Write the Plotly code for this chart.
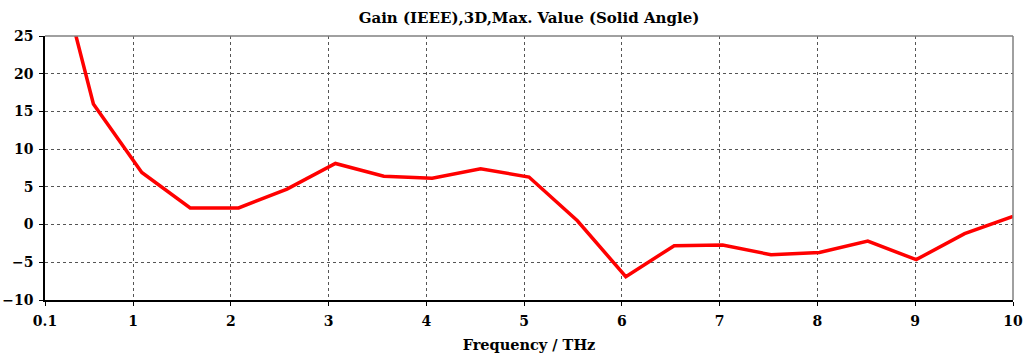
import numpy as np
import plotly.graph_objects as go

freq = [0.1, 0.595, 1.09, 1.585, 2.08, 2.575, 3.07, 3.565, 4.06, 4.555, 5.05,
        5.545, 6.04, 6.535, 7.03, 7.525, 8.02, 8.515, 9.01, 9.505, 10.0]
gain = [41.0, 16.0, 6.9, 2.2, 2.2, 4.7, 8.1, 6.4, 6.15, 7.4, 6.3,
        0.5, -6.9, -2.8, -2.7, -4.0, -3.7, -2.2, -4.65, -1.2, 1.07]
x_ticks = [0.1, 1, 2, 3, 4, 5, 6, 7, 8, 9, 10]
x_tick_text = ["0.1", "1", "2", "3", "4", "5", "6", "7", "8", "9", "10"]
y_ticks = [-10, -5, 0, 5, 10, 15, 20, 25]

font_family = "DejaVu Serif"

fig = go.Figure()
fig.add_trace(go.Scatter(x=freq, y=gain, mode="lines",
                         line=dict(color="#ff0000", width=3.5),
                         cliponaxis=True, hoverinfo="x+y"))

axis_common = dict(
    showgrid=True, gridcolor="#555555", gridwidth=1, griddash="3px,3px",
    zeroline=False, showline=True, linecolor="black", linewidth=1.5,
    ticks="outside", ticklen=4, tickcolor="black", automargin=False,
    tickfont=dict(family=font_family, size=14, color="black", weight="bold"),
)

fig.update_xaxes(range=[0.1, 10], tickvals=x_ticks, ticktext=x_tick_text,
                 ticklabelstandoff=3,
                 title=dict(text="<b>Frequency / THz</b>",
                            font=dict(family=font_family, size=14.5, color="black"),
                            standoff=12),
                 **axis_common)
fig.update_yaxes(range=[-10, 25], tickvals=y_ticks, ticklabelstandoff=3,
                 **axis_common)

# top/right grey frame
fig.add_shape(type="line", xref="paper", yref="paper", x0=0, x1=1, y0=1, y1=1,
              line=dict(color="#808080", width=1.5))
fig.add_shape(type="line", xref="paper", yref="paper", x0=1, x1=1, y0=0, y1=1,
              line=dict(color="#808080", width=1.5))

fig.update_layout(
    width=1024, height=356,
    margin=dict(l=44.5, r=10.5, t=35.5, b=55.6, autoexpand=False),
    plot_bgcolor="white", paper_bgcolor="white",
    showlegend=False,
    font=dict(family=font_family),
    title=dict(text="<b>Gain (IEEE),3D,Max. Value (Solid Angle)</b>",
               x=0.5, xanchor="center", xref="paper", y=1 - 18 / 356, yanchor="middle",
               font=dict(family=font_family, size=15, color="black")),
)

fig.write_html("out.html")
